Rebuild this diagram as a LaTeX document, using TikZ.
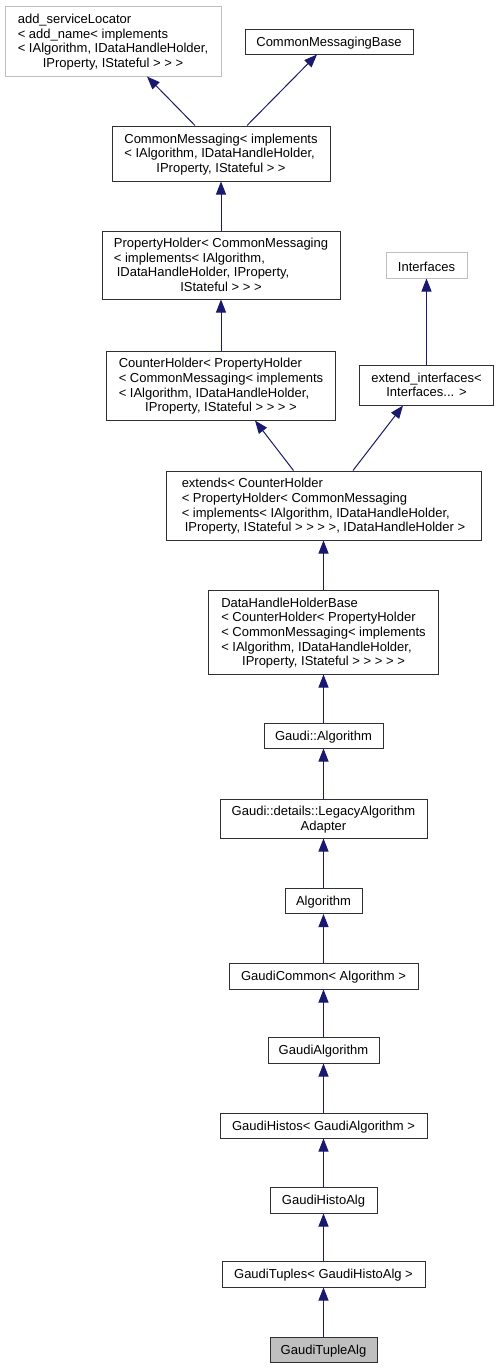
\documentclass[tikz,border=0pt]{standalone}
\usepackage{fontspec}
\setmainfont{Liberation Sans}
\usetikzlibrary{arrows.meta}
\definecolor{edgeblue}{HTML}{191970}
\definecolor{grayborder}{HTML}{BFBFBF}
\definecolor{boxline}{HTML}{303030}
\newcommand\dlines[1]{\raisebox{-1.5pt}[\height][\depth]{\begin{tabular}{@{}l@{}}#1\end{tabular}}}
\newcommand\lastc[1]{\multicolumn{1}{@{}c@{}}{#1}}
\newcommand\oneline[1]{\raisebox{-1.5pt}[\height][\depth]{#1}}
\begin{document}
\begin{tikzpicture}[x=1pt,y=-1pt,
  font=\fontsize{13}{14.7}\selectfont,
  box/.style={draw=boxline,line width=1pt,fill=white,inner sep=0pt,rectangle},
  gbox/.style={draw=grayborder,line width=1pt,fill=white,inner sep=0pt,rectangle},
  edge/.style={draw=edgeblue,line width=1pt,-{Triangle[width=10pt,length=13pt]}}]
\useasboundingbox[fill=white] (0,0) rectangle (499,1368);
\node[gbox,minimum width=216,minimum height=70] (asl) at (113,41) {\dlines{add\_serviceLocator\\< add\_name< implements\\< IAlgorithm, IDataHandleHolder,\\\lastc{IProperty, IStateful > > >}}};
\node[box,minimum width=168,minimum height=25] (cmb) at (329,41.5) {\oneline{CommonMessagingBase}};
\node[box,minimum width=218,minimum height=55] (cm) at (221,153.5) {\dlines{CommonMessaging< implements\\< IAlgorithm, IDataHandleHolder,\\\lastc{IProperty, IStateful > >}}};
\node[box,minimum width=238,minimum height=68] (ph) at (221,265) {\dlines{PropertyHolder< CommonMessaging\\< implements< IAlgorithm,\\\hspace*{3pt}IDataHandleHolder, IProperty,\\\lastc{IStateful > > >}}};
\node[gbox,minimum width=81,minimum height=26] (intf) at (426.5,265) {\oneline{Interfaces}};
\node[box,minimum width=229,minimum height=69] (ch) at (221,385.5) {\dlines{CounterHolder< PropertyHolder\\< CommonMessaging< implements\\< IAlgorithm, IDataHandleHolder,\\\lastc{IProperty, IStateful > > > >}}};
\node[box,minimum width=134,minimum height=40] (ei) at (426.5,385) {\dlines{\lastc{extend\_interfaces<}\\\lastc{Interfaces... >}}};
\node[box,minimum width=315,minimum height=69] (ext) at (323.5,505.5) {\dlines{extends< CounterHolder\\< PropertyHolder< CommonMessaging\\< implements< IAlgorithm, IDataHandleHolder,\\\hspace*{3pt}IProperty, IStateful > > > >, IDataHandleHolder >}};
\node[box,minimum width=230,minimum height=84] (dhhb) at (323.5,632) {\dlines{DataHandleHolderBase\\< CounterHolder< PropertyHolder\\< CommonMessaging< implements\\< IAlgorithm, IDataHandleHolder,\\\lastc{IProperty, IStateful > > > > >}}};
\node[box,minimum width=119,minimum height=25] (ga) at (323.5,735.5) {\oneline{Gaudi::Algorithm}};
\node[box,minimum width=207,minimum height=39] (lega) at (323.5,818.5) {\dlines{Gaudi::details::LegacyAlgorithm\\\lastc{Adapter}}};
\node[box,minimum width=77,minimum height=25] (alg) at (323.5,901) {\oneline{Algorithm}};
\node[box,minimum width=189,minimum height=26] (gc) at (323.5,976) {\oneline{GaudiCommon< Algorithm >}};
\node[box,minimum width=111,minimum height=26] (gal) at (323.5,1050) {\oneline{GaudiAlgorithm}};
\node[box,minimum width=207,minimum height=25] (gh) at (323.5,1125.5) {\oneline{GaudiHistos< GaudiAlgorithm >}};
\node[box,minimum width=107,minimum height=26] (gha) at (323.5,1200) {\oneline{GaudiHistoAlg}};
\node[box,minimum width=203,minimum height=26] (gt) at (323.5,1274) {\oneline{GaudiTuples< GaudiHistoAlg >}};
\node[box,fill=grayborder,minimum width=107,minimum height=25] (gta) at (323.5,1349.5) {\oneline{GaudiTupleAlg}};
\draw[edge] ([xshift=-26pt]cm.north) -- ([xshift=34pt]asl.south);
\draw[edge] ([xshift=26pt]cm.north) -- ([xshift=-12pt]cmb.south);
\draw[edge] (ph.north) -- (cm.south);
\draw[edge] (ch.north) -- (ph.south);
\draw[edge] (ei.north) -- (intf.south);
\draw[edge] ([xshift=-30pt]ext.north) -- ([xshift=34pt]ch.south);
\draw[edge] ([xshift=29.5pt]ext.north) -- ([xshift=-23.5pt]ei.south);
\draw[edge] (dhhb.north) -- (ext.south);
\draw[edge] (ga.north) -- (dhhb.south);
\draw[edge] (lega.north) -- (ga.south);
\draw[edge] (alg.north) -- (lega.south);
\draw[edge] (gc.north) -- (alg.south);
\draw[edge] (gal.north) -- (gc.south);
\draw[edge] (gh.north) -- (gal.south);
\draw[edge] (gha.north) -- (gh.south);
\draw[edge] (gt.north) -- (gha.south);
\draw[edge] (gta.north) -- (gt.south);
\end{tikzpicture}
\end{document}
